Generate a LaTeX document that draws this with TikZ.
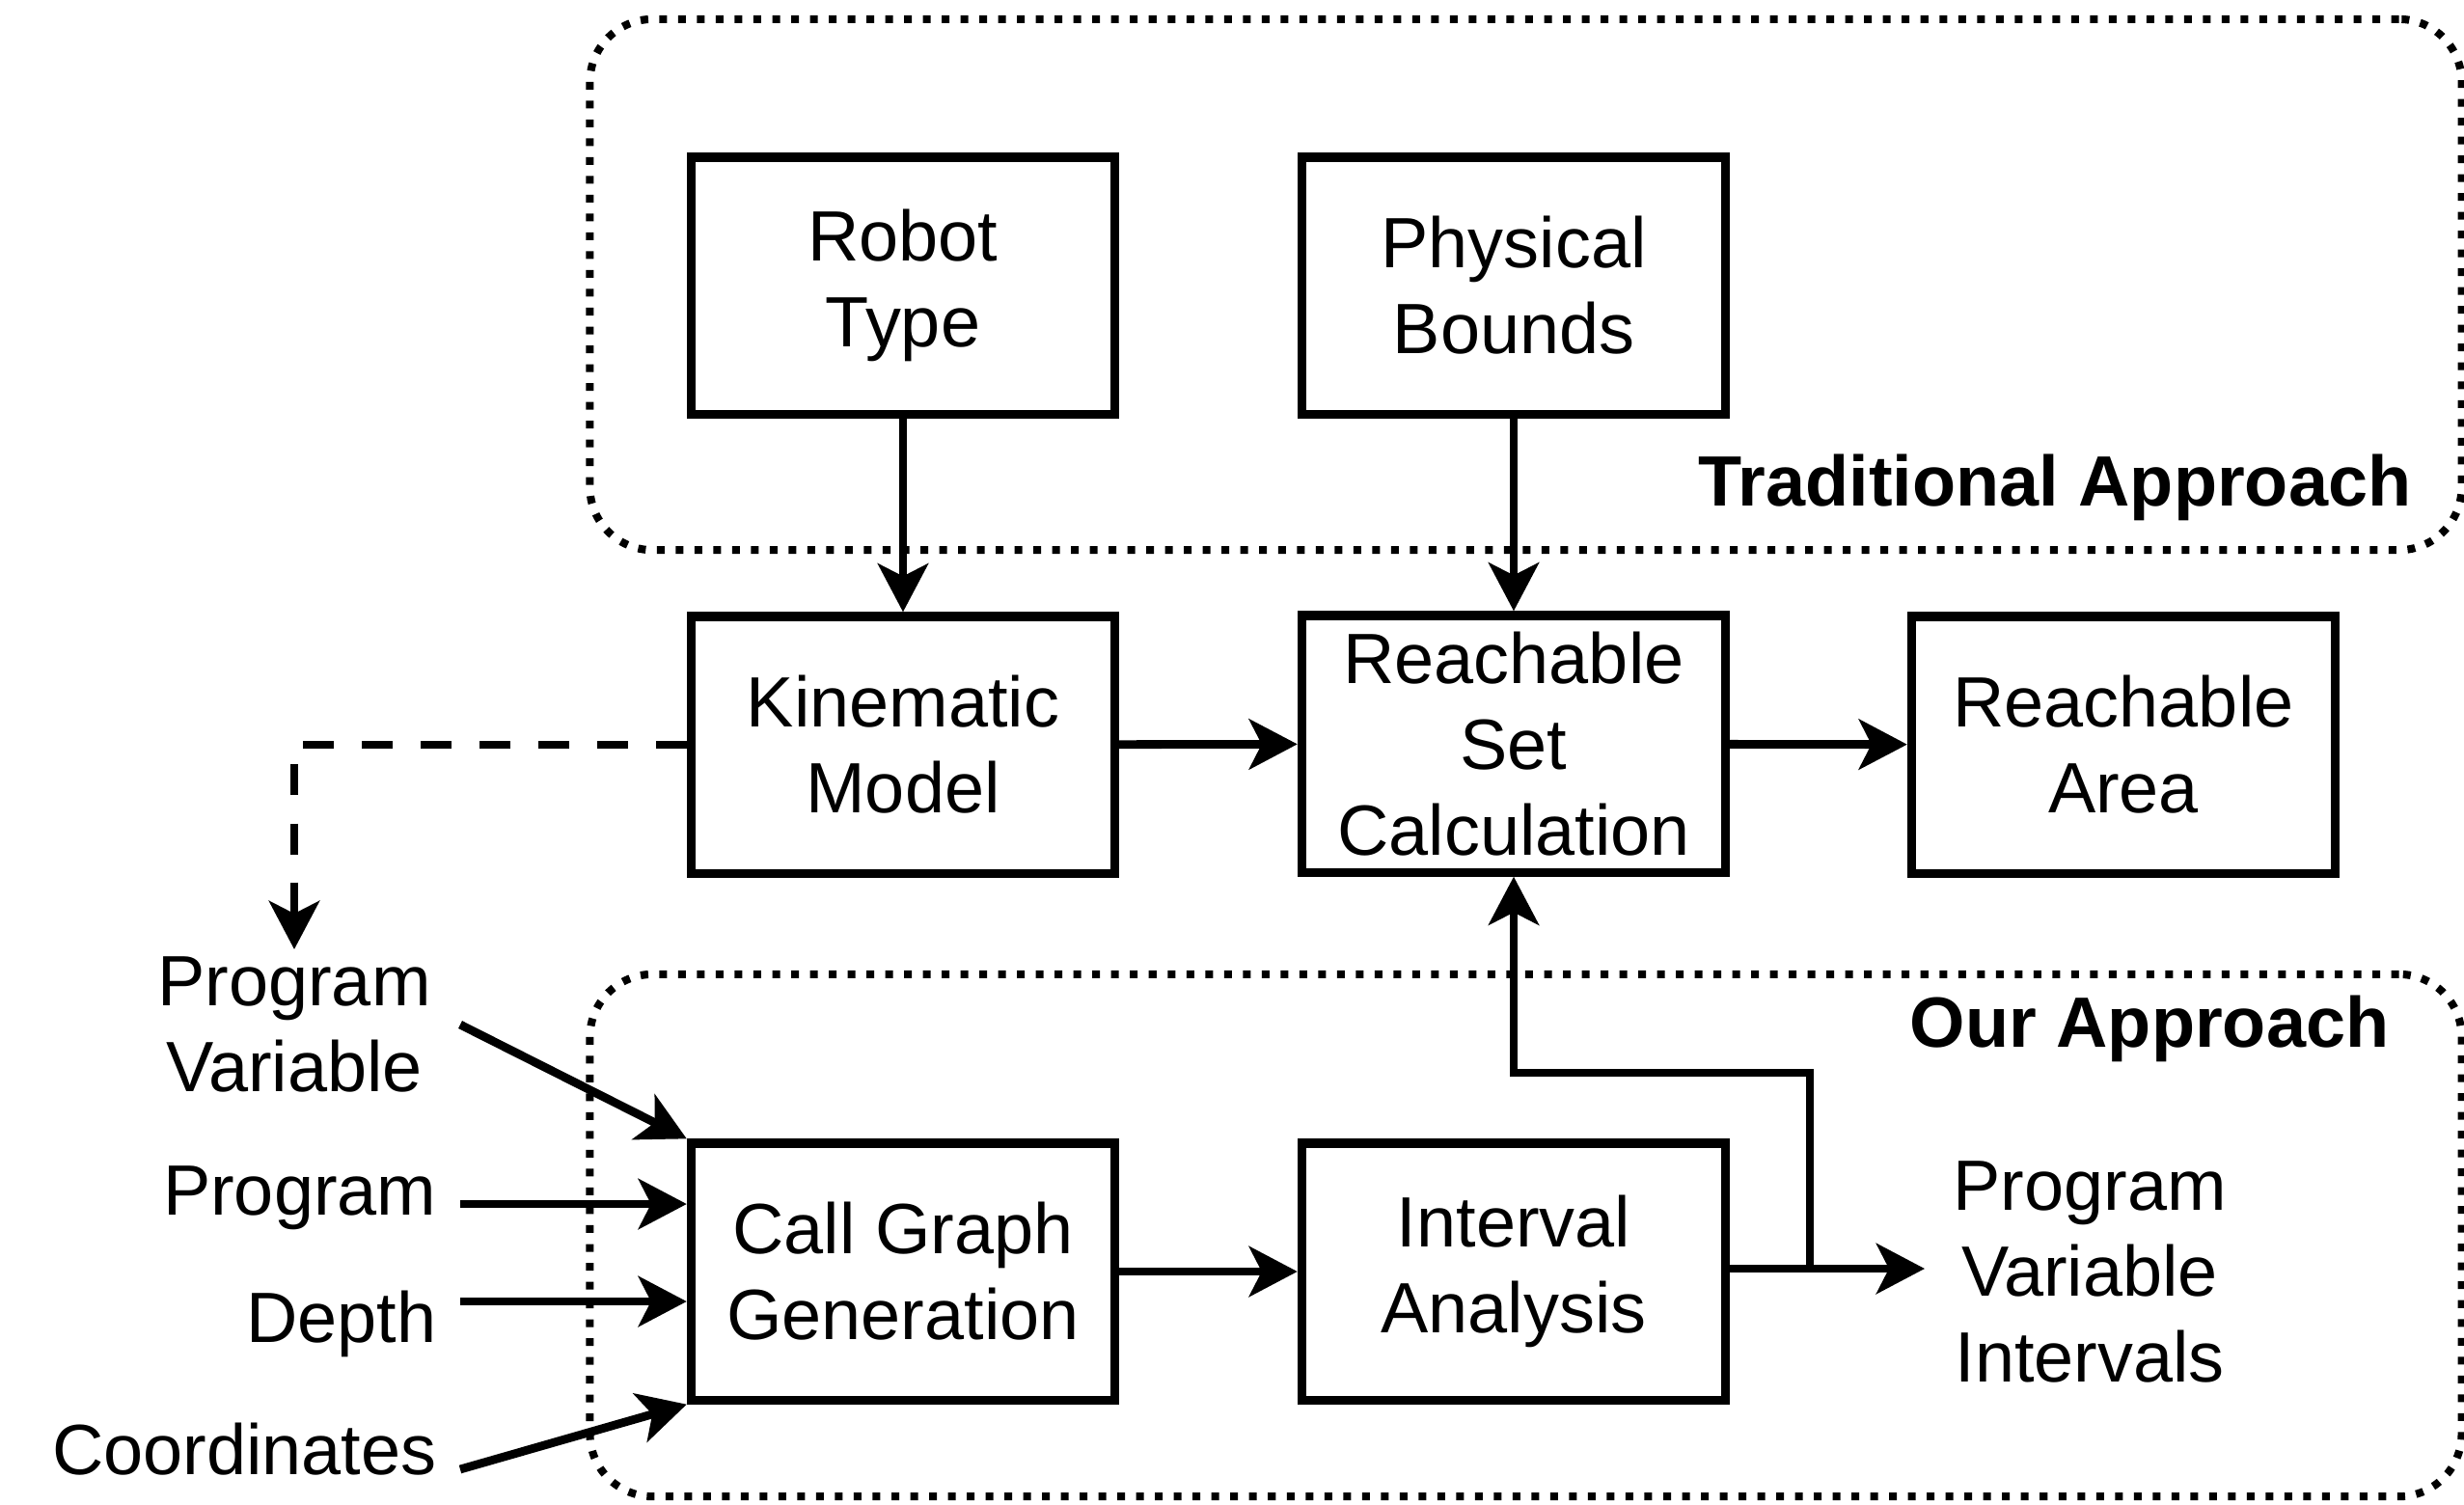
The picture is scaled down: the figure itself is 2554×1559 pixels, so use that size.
\documentclass[tikz,border=0pt]{standalone}
\usepackage{fontspec}
\setmainfont{Liberation Sans}
\usetikzlibrary{arrows.meta,calc}
\begin{document}
\begin{tikzpicture}[x=0.01cm,y=-0.01cm,
  box/.style={draw, line width=2.6pt, minimum width=4.39cm, minimum height=2.66cm, align=center, font=\fontsize{21}{25.3}\selectfont, inner sep=0pt},
  lbl/.style={align=center, font=\fontsize{21}{25.3}\selectfont, inner sep=0pt},
  grp/.style={draw, line width=2.3pt, dash pattern=on 0.08cm off 0.115cm, rounded corners=0.65cm, minimum width=19.39cm},
  arr/.style={line width=2.5pt, -{Stealth[length=0.5cm,width=0.52cm,inset=0.13cm]}},
  dsh/.style={dash pattern=on 0.32cm off 0.29cm},
  ttl/.style={font=\bfseries\fontsize{21}{25}\selectfont, inner sep=0pt}
]
\useasboundingbox (0,0) rectangle (2554,1559);
% groups
\node[grp, minimum height=5.5cm] (trad) at (1581.5,295) {};
\node[grp, minimum height=5.41cm] (ours) at (1581.5,1280.5) {};
\node[ttl, anchor=base east] (tt) at (2500,524) {Traditional Approach};
\node[ttl, anchor=base east] (ot) at (2477,1085) {Our Approach};
% boxes
\node[box] (rt) at (936,296) {Robot\\Type};
\node[box] (pb) at (1569,296) {Physical\\Bounds};
\node[box] (km) at (936,772) {Kinematic\\Model};
\node[box] (rs) at (1569,771) {Reachable\\Set\\Calculation};
\node[box] (ra) at (2201,772) {Reachable\\Area};
\node[box] (cg) at (936,1318) {Call Graph\\Generation};
\node[box] (ia) at (1569,1318) {Interval\\Analysis};
% labels
\node[lbl] (pv) at (305,1062) {Program\\Variable};
\node[lbl, anchor=base east] (prog) at (453,1259) {Program};
\node[lbl, anchor=base east] (dep) at (453,1391) {Depth};
\node[lbl, anchor=base east] (coo) at (453,1528) {Coordinates};
\node[lbl] (pvi) at (2166,1318) {Program\\Variable\\Intervals};
% connectors
\draw[arr] (rt) -- (km);
\draw[arr] (pb) -- (rs);
\draw[arr] (km) -- (rs);
\draw[arr] (rs) -- (ra);
\draw[arr] (cg) -- (ia);
\coordinate (pviW) at (1995,1315);
\draw[arr] (ia.east |- pviW) -- (pviW);
\coordinate (br) at (1876,1315);
\draw[arr] (br) -- ++(0,-203) -| (rs.south);
\draw[arr, dsh] (km.west) -| ([yshift=2pt]pv.north);
\coordinate (pvS) at (477,1062);
\coordinate (progS) at (477,1248);
\coordinate (depS) at (477,1349);
\coordinate (coS) at (477,1523);
\draw[arr] (pvS) -- (cg.north west);
\draw[arr] (progS) -- (progS -| cg.west);
\draw[arr] (depS) -- (depS -| cg.west);
\draw[arr] (coS) -- (cg.south west);
\end{tikzpicture}
\end{document}
